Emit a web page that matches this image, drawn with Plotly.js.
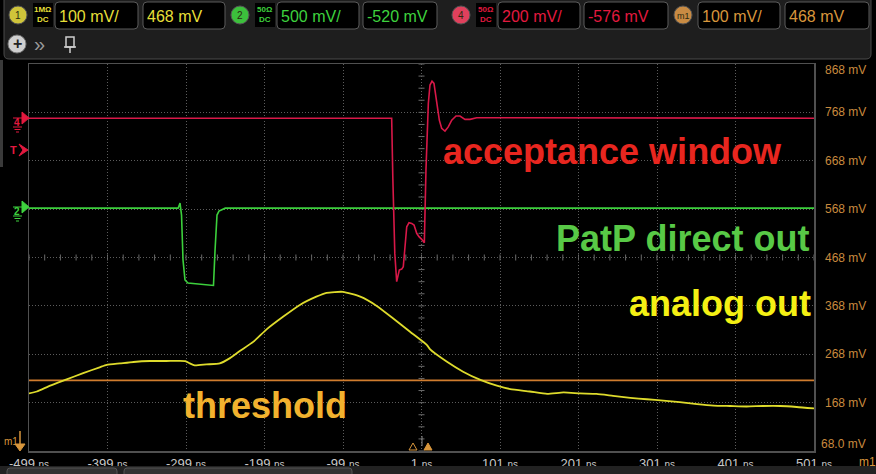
<!DOCTYPE html>
<html>
<head>
<meta charset="utf-8">
<script src="https://cdn.plot.ly/plotly-3.0.1.min.js"></script>
<style>
  html, body { margin: 0; padding: 0; background: #000; }
  #scope { width: 876px; height: 474px; }
</style>
</head>
<body>
<div id="scope"></div>
<script>
// horizontal axis, ns
const timeTicks = [-499, -399, -299, -199, -99, 1, 101, 201, 301, 401, 501];
// vertical axis (ch1 / m1 scale), mV
const voltTicks = [868, 768, 668, 568, 468, 368, 268, 168, 68];
const voltLabels = ["868 mV", "768 mV", "668 mV", "568 mV", "468 mV", "368 mV", "268 mV", "168 mV", "68.0 mV"];

// ch1 - analog out (100 mV/div, offset 468 mV)
const analogT = [-499, -489, -472, -451, -430, -409, -400, -383, -366, -345,
                 -324, -300, -294, -288, -273, -256, -243, -230, -213, -196,
                 -175, -154, -133, -120, -99, -77, -56, -35, -14, 8,
                 12, 33, 54, 76, 97, 114, 139, 161, 182, 203,
                 224, 245, 267, 288, 309, 330, 352, 373, 394, 415,
                 436, 458, 479, 501];
const analogV = [187, 191, 203, 216, 229, 241, 246, 249, 252, 254,
                 254, 254, 249, 245, 247, 249, 260, 275, 294, 320,
                 346, 370, 387, 395, 397, 387, 368, 342, 315, 287,
                 278, 253, 232, 215, 203, 196, 191, 186, 189, 187,
                 186, 182, 178, 175, 172, 169, 165, 162, 161, 160,
                 161, 161, 159, 156];

// m1 - threshold (100 mV/div, offset 468 mV)
const thresholdT = [-499, -399, -299, -199, -99, 1, 101, 201, 301, 401, 501];
const thresholdV = [214, 214, 214, 214, 214, 214, 214, 214, 214, 214, 214];

// ch2 - PatP direct out (500 mV/div, offset -520 mV)
const patpT = [-499, -309, -306.6, -304.7, -302.8, -300.3, -296.5, -281, -266, -264,
               -262, -259.5, -257, -249, 501];
const patpV = [-10, -10, 43, -81, -546, -752, -783, -794, -804, -809,
               -443, -81, -40, -10, -10];

// ch4 - acceptance window (200 mV/div, offset -576 mV)
const accT = [-499, -37, -35.5, -33, -30.6, -27.3, -24.2, -22.2, -17.8, -14.9,
              -11.5, -8.5, -5.1, -2.2, 1.3, 4.6, 6.7, 9.7, 11.8, 14.4,
              16.9, 20.4, 23.7, 26.7, 30.9, 35.1, 39.5, 45, 50, 56.4,
              62.8, 71.3, 501];
const accV = [0, 0, -250, -560, -676, -628, -624, -614, -449, -432,
              -435, -442, -476, -490, -501, -515, -214, 61, 137, 153,
              144, 75, -8, -42, -53, -36, -8, 9, 9, -5,
              -5, 2, 0];

// plot area in page pixels
const L = 29, R = 814, T = 64, B = 451;
function px(x) { return (x - L) / (R - L); }
function py(y) { return (B - y) / (B - T); }

const ui = 'Liberation Sans, Arial, sans-serif';
const YEL = '#e6df38', GRN = '#3ed23e', RED = '#e3193f', ORG = '#d8963c';

const shapes = [];
const notes = [];

function rrect(x0, y0, x1, y1, r, fill, line) {
  const a = px(x0), b = px(x1), c = py(y0), d = py(y1);
  const rx = r / (R - L), ry = r / (B - T);
  const p = `M${a + rx},${c} L${b - rx},${c} Q${b},${c} ${b},${c - ry} L${b},${d + ry} Q${b},${d} ${b - rx},${d} ` +
            `L${a + rx},${d} Q${a},${d} ${a},${d + ry} L${a},${c - ry} Q${a},${c} ${a + rx},${c} Z`;
  shapes.push({type: 'path', xref: 'paper', yref: 'paper', path: p, fillcolor: fill,
               line: {color: line || fill, width: 1}});
}
function rect(x0, y0, x1, y1, fill) {
  shapes.push({type: 'rect', xref: 'paper', yref: 'paper', x0: px(x0), x1: px(x1), y0: py(y0), y1: py(y1),
               fillcolor: fill, line: {width: 0}});
}
function circle(cx, cy, r, fill, line) {
  shapes.push({type: 'circle', xref: 'paper', yref: 'paper', x0: px(cx - r), x1: px(cx + r),
               y0: py(cy + r), y1: py(cy - r), fillcolor: fill, line: {color: line, width: 1}});
}
function poly(pts, fill, line) {
  const p = pts.map((q, i) => (i ? 'L' : 'M') + px(q[0]) + ',' + py(q[1])).join(' ') + ' Z';
  shapes.push({type: 'path', xref: 'paper', yref: 'paper', path: p, fillcolor: fill || 'rgba(0,0,0,0)',
               line: {color: line || fill, width: 1}});
}
function seg(x0, y0, x1, y1, color, w) {
  shapes.push({type: 'line', xref: 'paper', yref: 'paper', x0: px(x0), x1: px(x1), y0: py(y0), y1: py(y1),
               line: {color: color, width: w || 1}});
}
function label(x, y, text, size, color, anchor, bold) {
  notes.push({xref: 'paper', yref: 'paper', x: px(x), y: py(y), text: bold ? '<b>' + text + '</b>' : text,
              showarrow: false, xanchor: anchor || 'left', yanchor: 'middle',
              font: {family: ui, size: size, color: color}});
}

// toolbar
rect(0, 60, 3, 167, '#3a3a3a');
rrect(4, -6, 871, 59, 5, '#1e1e1e', '#4a4a4a');
const chans = [
  {cx: 18, tag: '1', sub: '1MΩ<br>DC', subx: 43, fill: '#cfc43a', col: YEL, boxes: [[55, 138, '100 mV/'], [143, 225, '468 mV']]},
  {cx: 240, tag: '2', sub: '50Ω<br>DC', subx: 265, fill: '#3cc03c', col: GRN, boxes: [[277, 359, '500 mV/'], [363, 437, '-520 mV']]},
  {cx: 461, tag: '4', sub: '50Ω<br>DC', subx: 486, fill: '#e0405c', col: RED, boxes: [[498, 580, '200 mV/'], [584, 668, '-576 mV']]},
  {cx: 683, tag: 'm1', sub: '', subx: 0, fill: '#c98b43', col: ORG, boxes: [[698, 780, '100 mV/'], [785, 869, '468 mV']]}
];
chans.forEach(c => {
  circle(c.cx, 15, 9, c.fill, '#555');
  label(c.cx, 15.5, c.tag, c.tag.length > 1 ? 9 : 10, '#2a2a10', 'center');
  if (c.sub) {
    rect(c.subx - 10, 3, c.subx + 10, 27, '#000');
    notes.push({xref: 'paper', yref: 'paper', x: px(c.subx), y: py(15), text: '<b>' + c.sub + '</b>',
                showarrow: false, xanchor: 'center', yanchor: 'middle',
                font: {family: ui, size: 8, color: c.col}});
  }
  c.boxes.forEach(b => {
    rrect(b[0], 2, b[1], 29, 4, '#000', '#5a5a5a');
    label(b[0] + 2, 16, b[2], 16, c.col);
  });
});
circle(17, 44, 9, '#cfcfcf', '#777');
label(17, 44, '<b>+</b>', 16, '#222', 'center');
label(39, 44, '»', 20, '#9a9a9a', 'center');
shapes.push({type: 'rect', xref: 'paper', yref: 'paper', x0: px(66), x1: px(74), y0: py(47), y1: py(37),
             line: {color: '#cfcfcf', width: 1.5}});
seg(64, 47, 76, 47, '#cfcfcf', 1.5);
seg(70, 47, 70, 53, '#cfcfcf', 1.5);

// bottom strip
rect(0, 466, 876, 474, '#222');
rrect(7, 468, 117, 480, 3, '#333', '#555');
rrect(124, 468, 352, 480, 3, '#333', '#555');

// channel markers on the left
function ground(y, col, tag) {
  poly([[22, y - 6], [29, y], [22, y + 6]], col);
  seg(13, y, 23, y, col, 1);
  label(17, y + 4, tag, 10, col, 'center', true);
  seg(13, y + 9, 22, y + 9, col, 1);
  seg(14.5, y + 11.5, 20.5, y + 11.5, col, 1);
  seg(16, y + 14, 19, y + 14, col, 1);
}
ground(118, RED, '4');
ground(207, GRN, '2');
label(13, 150, 'T', 11, RED, 'center', true);
poly([[19, 144], [28, 150], [19, 156], [23, 150]], RED);
label(11, 441, 'm1', 10, ORG, 'center');
seg(20, 431, 20, 444, ORG, 1.5);
poly([[15, 444], [25, 444], [20, 451]], ORG);
// trigger markers at the bottom
poly([[409, 450], [417, 450], [413, 443]], null, ORG);
poly([[424, 450], [432, 450], [428, 443]], ORG);
seg(422, 436, 422, 446, '#888', 1);
label(857, 462, 'm1', 12, ORG, 'left');

// subdivision ticks on the centre lines
for (let t = -499; t <= 501; t += 20) {
  shapes.push({type: 'line', xref: 'x', yref: 'y', x0: t, x1: t, ysizemode: 'pixel', yanchor: 468,
               y0: -3, y1: 3, layer: 'below', line: {color: '#6a6a6a', width: 1}});
}
for (let v = 68; v <= 868; v += 25) {
  shapes.push({type: 'line', xref: 'x', yref: 'y', y0: v, y1: v, xsizemode: 'pixel', xanchor: 1,
               x0: -3, x1: 3, layer: 'below', line: {color: '#6a6a6a', width: 1}});
}

// right-hand scale labels
voltTicks.forEach((v, i) => {
  notes.push({xref: 'paper', yref: 'y', x: px(868), y: v, text: voltLabels[i], showarrow: false,
              xanchor: 'right', yanchor: 'middle', yshift: i === 0 ? -6 : (i === voltTicks.length - 1 ? 7 : 0),
              font: {family: ui, size: 12, color: '#c98a3e'}});
});

// trace names
function tag(x, y, text, color, anchor) {
  notes.push({xref: 'paper', yref: 'paper', x: px(x), y: py(y), text: '<b>' + text + '</b>', showarrow: false,
              xanchor: anchor, yanchor: 'middle', font: {family: ui, size: 36, color: color}});
}
tag(441, 151, 'acceptance window', '#e8261f', 'left');
tag(811, 238, 'PatP direct out', '#58c946', 'right');
tag(813, 303, 'analog out', '#f4f014', 'right');
tag(181, 405, 'threshold', '#f2b22e', 'left');

const traces = [
  {x: thresholdT, y: thresholdV, yaxis: 'y', mode: 'lines', line: {color: '#d07c2e', width: 1.6}, name: 'm1'},
  {x: analogT, y: analogV, yaxis: 'y', mode: 'lines', line: {color: '#dedb2c', width: 1.8, shape: 'spline', smoothing: 0.5}, name: 'ch1'},
  {x: patpT, y: patpV, yaxis: 'y2', mode: 'lines', line: {color: '#3cd03c', width: 1.6}, name: 'ch2'},
  {x: accT, y: accV, yaxis: 'y3', mode: 'lines', line: {color: '#d81848', width: 1.6}, name: 'ch4'}
];

const grid = {showgrid: true, gridcolor: '#5c5c5c', griddash: '1px,2px', gridwidth: 1, zeroline: false,
              showline: true, linecolor: '#505050', linewidth: 1.5, mirror: true, ticks: '', fixedrange: true};

Plotly.newPlot('scope', traces, {
  width: 876, height: 474,
  margin: {l: L, r: 876 - R, t: T, b: 474 - B},
  paper_bgcolor: '#000', plot_bgcolor: '#000',
  showlegend: false,
  xaxis: Object.assign({}, grid, {
    range: [-499, 501], tickvals: timeTicks,
    ticktext: timeTicks.map(t => t + ' <span style="font-size:10px">ns</span>'),
    tickfont: {family: ui, size: 13, color: '#c8c8c8'}
  }),
  yaxis: Object.assign({}, grid, {range: [68, 868], tickvals: voltTicks, showticklabels: false}),
  yaxis2: {overlaying: 'y', range: [-2520, 1480], visible: false, fixedrange: true},
  yaxis3: {overlaying: 'y', range: [-1376, 224], visible: false, fixedrange: true},
  shapes: shapes,
  annotations: notes
}, {displayModeBar: false, staticPlot: true});
</script>
</body>
</html>
